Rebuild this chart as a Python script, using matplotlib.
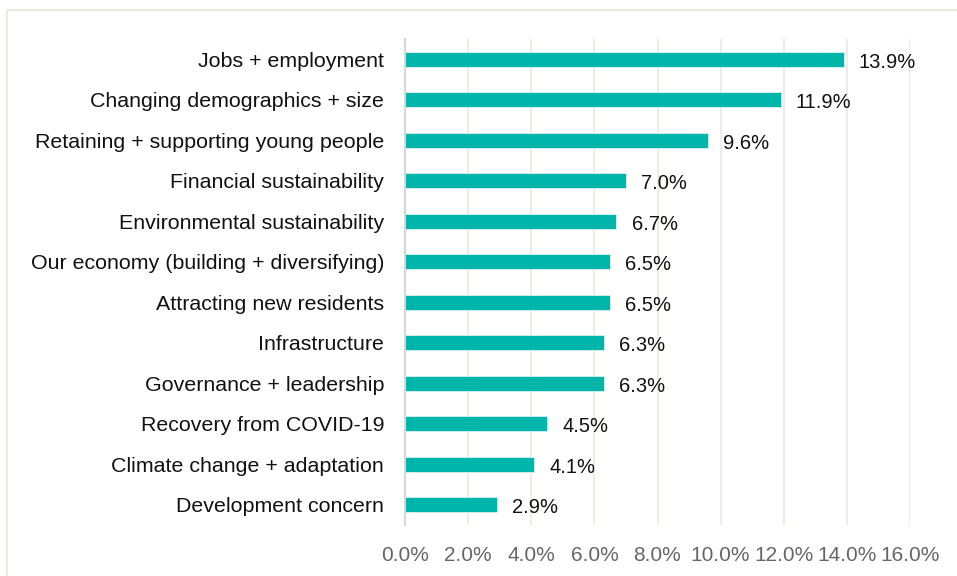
"""
Horizontal bar chart of top community priorities.
"""

import matplotlib.pyplot as plt
from matplotlib.patches import Rectangle
from matplotlib.ticker import FuncFormatter, MultipleLocator

categories = [
    "Jobs + employment",
    "Changing demographics + size",
    "Retaining + supporting young people",
    "Financial sustainability",
    "Environmental sustainability",
    "Our economy (building + diversifying)",
    "Attracting new residents",
    "Infrastructure",
    "Governance + leadership",
    "Recovery from COVID-19",
    "Climate change + adaptation",
    "Development concern",
]
shares = [13.9, 11.9, 9.6, 7.0, 6.7, 6.5, 6.5, 6.3, 6.3, 4.5, 4.1, 2.9]

BAR_COLOR = "#00B5AA"
GRID_COLOR = "#EFEDE2"

plt.rcParams["font.family"] = ["Liberation Sans", "DejaVu Sans"]

fig = plt.figure(figsize=(9.57, 5.76), dpi=100)
# outer frame of the chart area
fig.patches.append(Rectangle((7 / 957, -0.05), 1.2, 1 - 10 / 576 + 0.05,
                             transform=fig.transFigure, fill=False,
                             edgecolor="#ECEBE0", linewidth=1.5))

ax = fig.add_axes([405 / 957, 51 / 576, 505 / 957, 486 / 576])

inds = list(range(len(categories)))
ax.barh(inds, shares, height=0.36, color=BAR_COLOR,
        edgecolor="#D8F2EF", linewidth=0.6, zorder=3)

for i, val in zip(inds, shares):
    ax.annotate("{:.1f}%".format(val), (val, i), xytext=(11, -2),
                textcoords="offset points", va="center", ha="left",
                fontsize=14.5, color="#111111")

ax.set_xlim(0, 16)
ax.set_ylim(len(categories) - 0.5, -0.5)
ax.xaxis.set_major_locator(MultipleLocator(2))
ax.xaxis.set_major_formatter(FuncFormatter(lambda x, _: "{:.1f}%".format(x)))
ax.set_yticks(inds)
ax.set_yticklabels(categories)

ax.grid(axis="x", color=GRID_COLOR, linewidth=1.5, zorder=0)
for side in ["top", "right", "bottom"]:
    ax.spines[side].set_visible(False)
ax.spines["left"].set_color("#D6D6D6")
ax.spines["left"].set_linewidth(1.5)
ax.spines["left"].set_zorder(4)

ax.tick_params(axis="y", length=0, pad=15, labelsize=15.4, labelcolor="#111111")
ax.tick_params(axis="x", length=0, pad=15, labelsize=15, labelcolor="#666666")

fig.savefig("out.png", dpi=100)
